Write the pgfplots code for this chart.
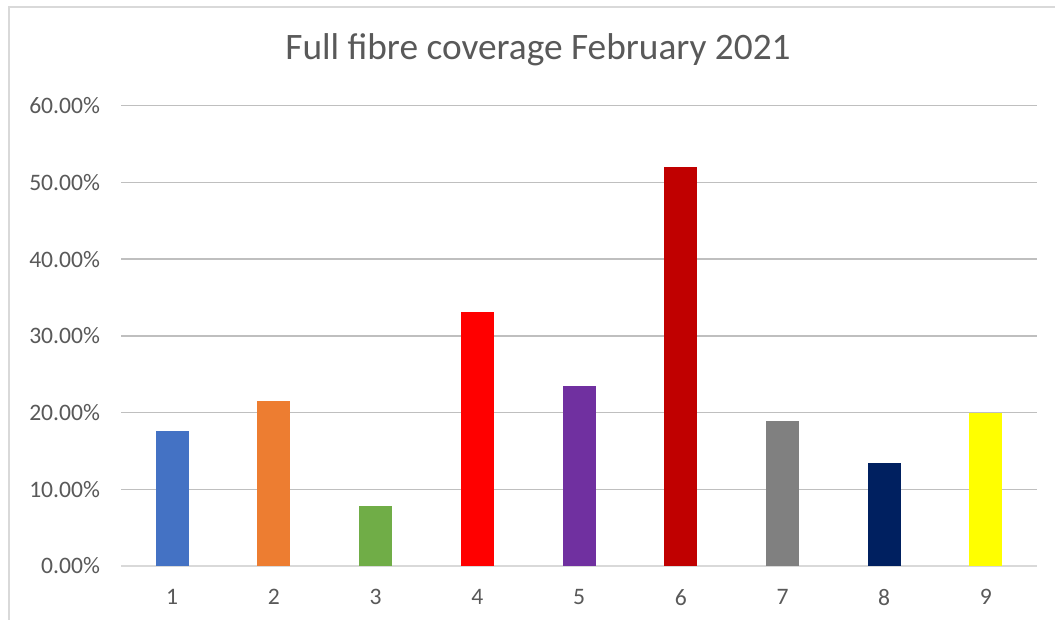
\documentclass[border=0pt]{standalone}
\usepackage{pgfplots}
\pgfplotsset{compat=1.18}
\usepackage{fontspec}
\setmainfont{Carlito}
\definecolor{grid}{HTML}{D9D9D9}
\definecolor{txt}{HTML}{595959}
\definecolor{c1}{HTML}{4472C4}
\definecolor{c2}{HTML}{ED7D31}
\definecolor{c3}{HTML}{70AD47}
\definecolor{c4}{HTML}{FF0000}
\definecolor{c5}{HTML}{7030A0}
\definecolor{c6}{HTML}{C00000}
\definecolor{c7}{HTML}{808080}
\definecolor{c8}{HTML}{002060}
\definecolor{c9}{HTML}{FFFF00}
\begin{document}
\begin{tikzpicture}[x=0.75pt,y=0.75pt]
\useasboundingbox (0,0) rectangle (1055,620);
\fill[white] (0,0) rectangle (1055,620);
\draw[grid,line width=1.2pt] (9,0) -- (9,613) -- (1055,613);
\node[txt,font=\fontsize{28}{32}\selectfont] at (538,570) {Full fibre coverage February 2021};
\begin{axis}[
  at={(91pt,40.5pt)}, anchor=origin,
  scale only axis,
  width=686.6pt, height=345.2pt,
  xmin=0.5, xmax=9.5, ymin=0, ymax=60,
  ybar, bar width=24.75pt,
  xtick={1,...,9},
  ytick={0,10,...,60},
  /pgf/number format/assume math mode=true,
  yticklabel={\pgfmathprintnumber[fixed,fixed zerofill,precision=2]{\tick}\%},
  xticklabel={\pgfmathprintnumber{\tick}},
  tick label style={txt,font=\fontsize{17.7}{21}\selectfont},
  yticklabel style={xshift=-12.5pt},
  xticklabel style={yshift=-14pt},
  major tick length=0pt,
  xmajorgrids=false,
  ymajorgrids, grid style={grid,line width=1.1pt},
  axis x line*=bottom, axis y line*=left,
  x axis line style={grid,line width=1.1pt},
  y axis line style={draw=none},
  clip=false,
]
\addplot[draw=none,fill=c1,bar shift=0pt] coordinates {(1,17.6)};
\addplot[draw=none,fill=c2,bar shift=0pt] coordinates {(2,21.5)};
\addplot[draw=none,fill=c3,bar shift=0pt] coordinates {(3,7.8)};
\addplot[draw=none,fill=c4,bar shift=0pt] coordinates {(4,33.1)};
\addplot[draw=none,fill=c5,bar shift=0pt] coordinates {(5,23.5)};
\addplot[draw=none,fill=c6,bar shift=0pt] coordinates {(6,52.0)};
\addplot[draw=none,fill=c7,bar shift=0pt] coordinates {(7,18.9)};
\addplot[draw=none,fill=c8,bar shift=0pt] coordinates {(8,13.4)};
\addplot[draw=none,fill=c9,bar shift=0pt] coordinates {(9,19.9)};
\end{axis}
\end{tikzpicture}
\end{document}
